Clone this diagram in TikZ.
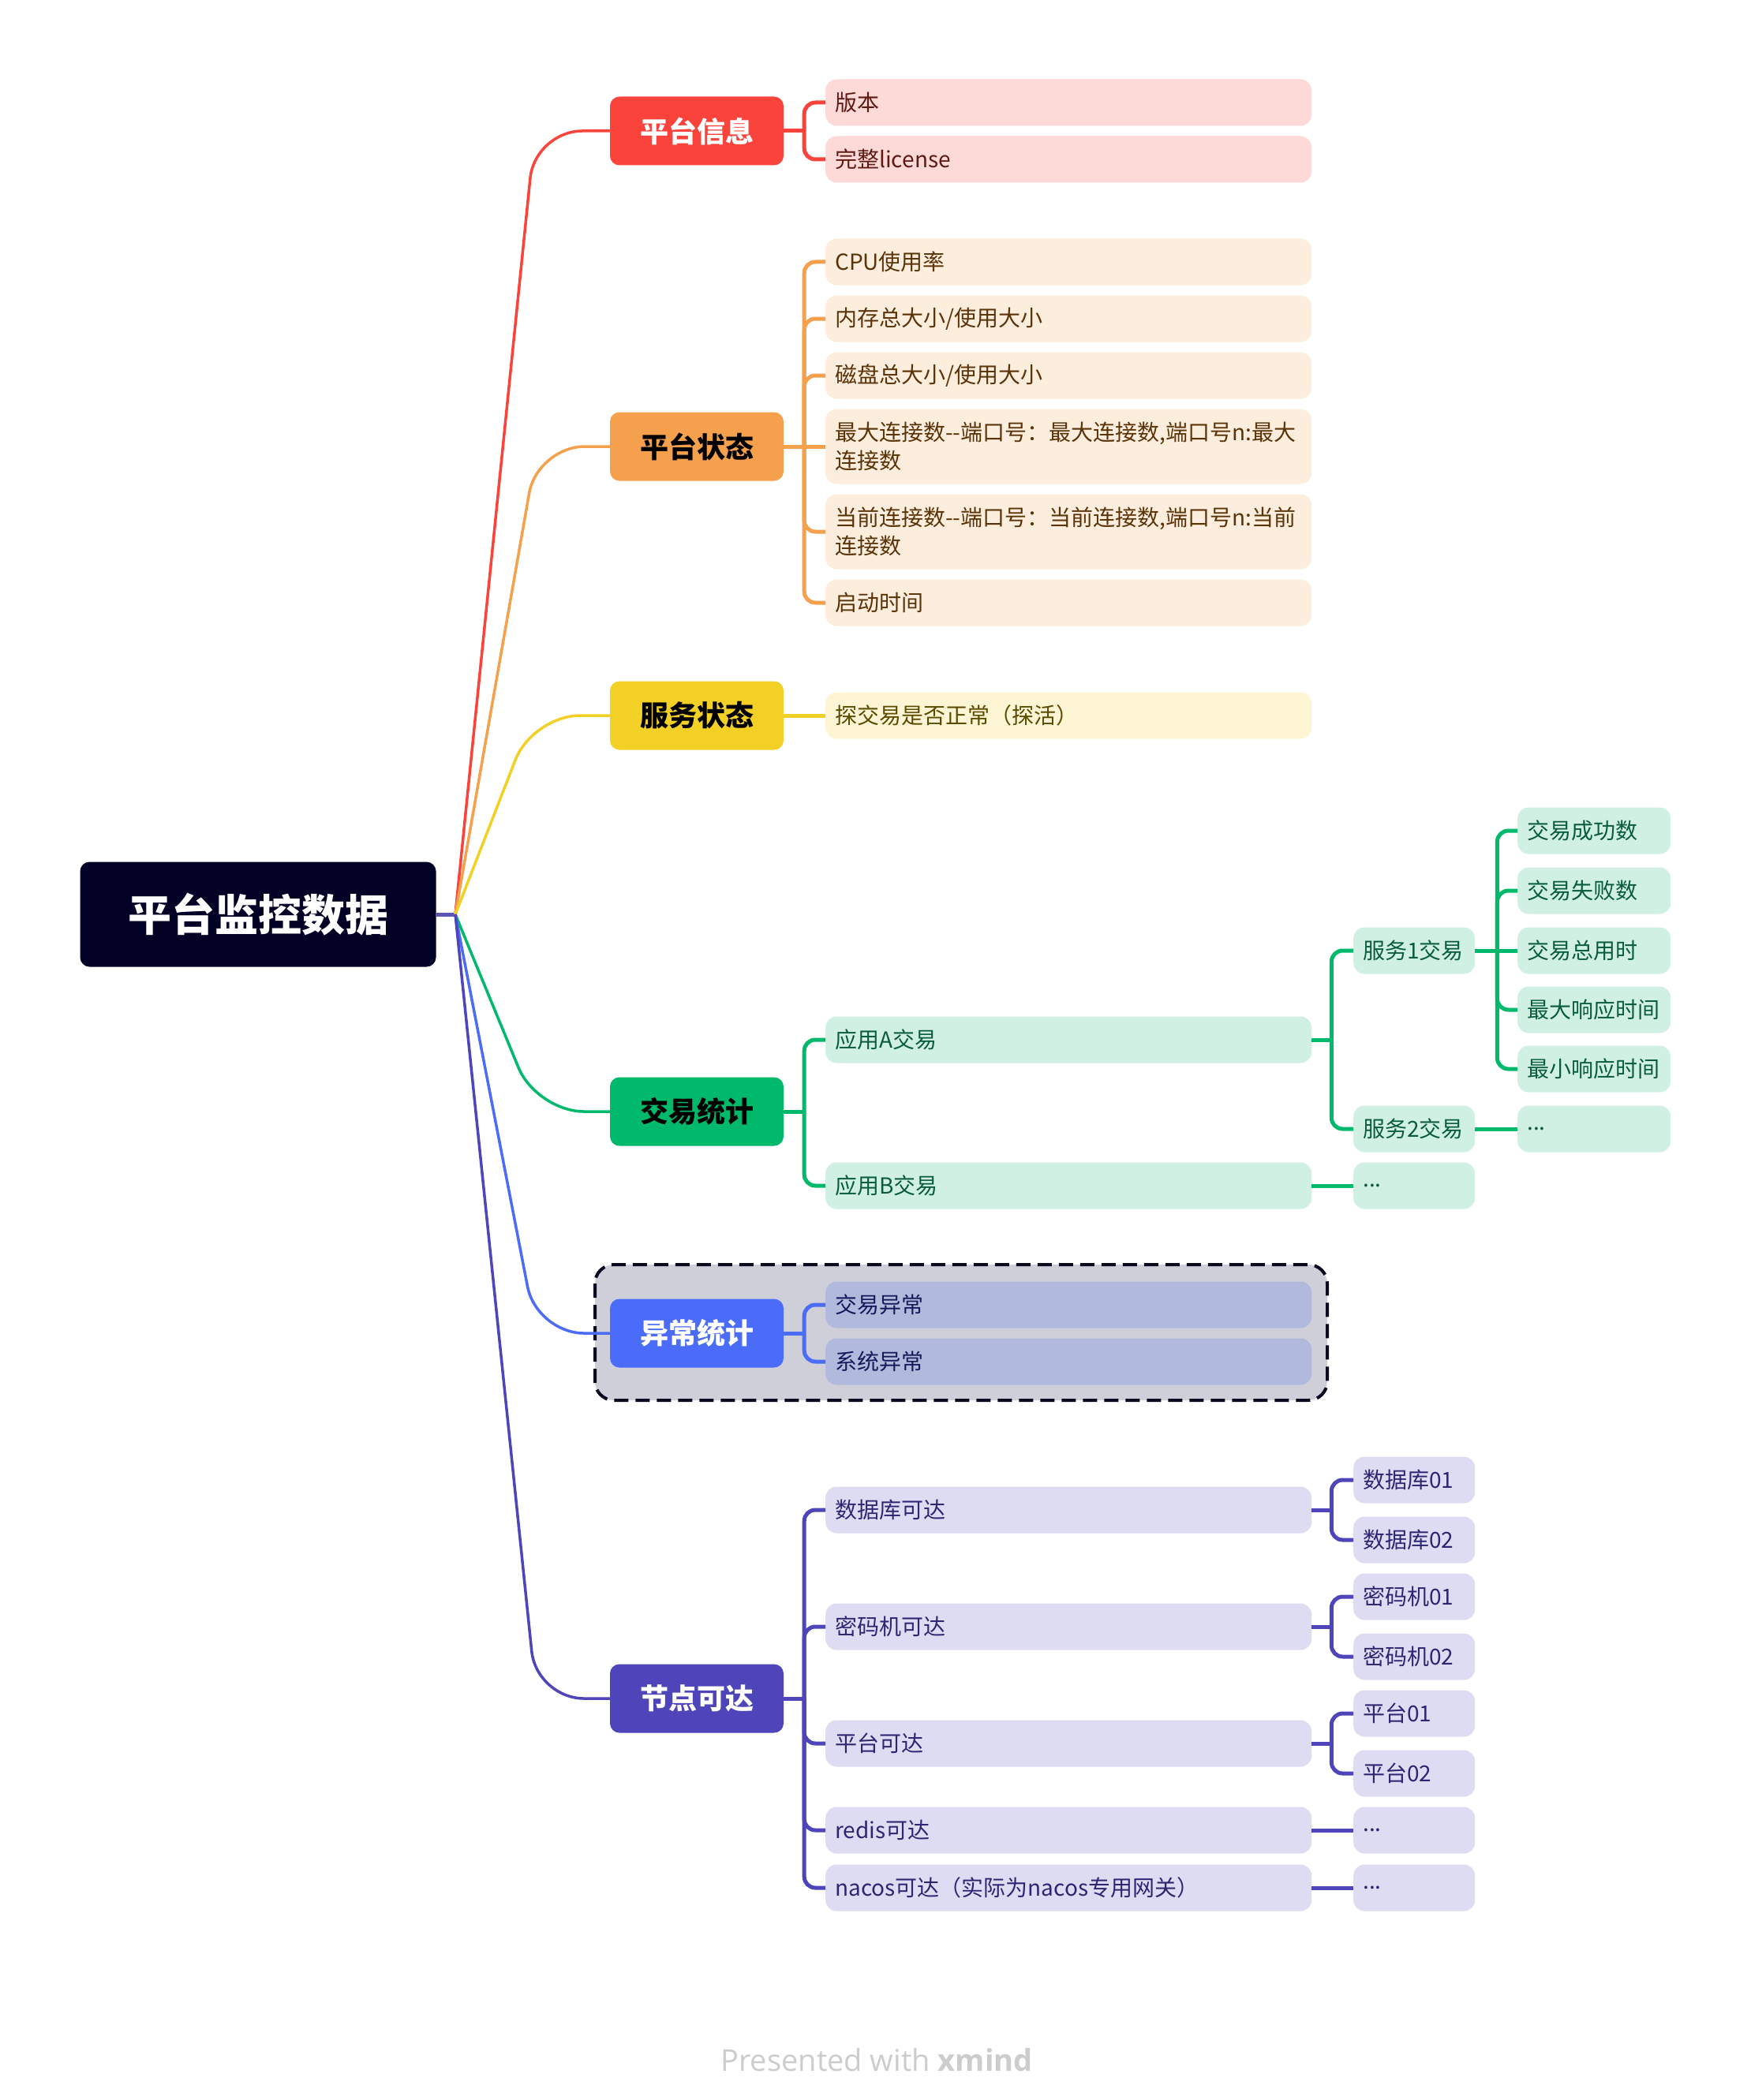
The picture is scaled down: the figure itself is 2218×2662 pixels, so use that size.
\documentclass[tikz,border=0pt]{standalone}
\usepackage{fontspec}
\setmainfont{Noto Sans CJK SC}
\newfontfamily\wmfont{Open Sans}
\definecolor{cRoot}{HTML}{020024}
\definecolor{cRootL}{HTML}{5B55B5}
\definecolor{cR}{HTML}{F9433B}
\definecolor{cO}{HTML}{F5A04C}
\definecolor{cY}{HTML}{F2D026}
\definecolor{cG}{HTML}{00B96B}
\definecolor{cB}{HTML}{4A6CF8}
\definecolor{cP}{HTML}{4D45B9}
\definecolor{lR}{HTML}{FDD9D8}
\definecolor{lO}{HTML}{FDEDDD}
\definecolor{lY}{HTML}{FDF5D3}
\definecolor{lG}{HTML}{CFF0E3}
\definecolor{lB}{HTML}{B1B9DC}
\definecolor{lP}{HTML}{DEDCF3}
\definecolor{tR}{HTML}{5E1B14}
\definecolor{tO}{HTML}{5A3408}
\definecolor{tY}{HTML}{5C4A00}
\definecolor{tG}{HTML}{0B5C3E}
\definecolor{tB}{HTML}{141A5A}
\definecolor{tP}{HTML}{2C2673}
\definecolor{boxfill}{HTML}{CFCFDA}
\definecolor{boxline}{HTML}{0A0A20}
\definecolor{wm}{HTML}{CCCCCC}
\begin{document}
\begin{tikzpicture}[x=1pt,y=-1pt,
  rootbox/.style={fill=cRoot, rounded corners=12pt, minimum width=451pt, minimum height=133pt, text=white, inner sep=0pt, font=\fontsize{55pt}{66pt}\selectfont\bfseries},
  lone/.style={rounded corners=12pt, minimum width=220pt, minimum height=87pt, inner sep=0pt, font=\fontsize{36pt}{44pt}\selectfont\bfseries},
  ltwo/.style={rounded corners=14pt, anchor=west, minimum height=59pt, text width=592pt, inner xsep=12pt, inner ysep=0pt, align=left, font=\fontsize{28pt}{36pt}\selectfont},
  lthree/.style={ltwo, text width=130pt},
  lfour/.style={ltwo, text width=170pt},
  mainc/.style={line width=3.5pt, draw=#1, rounded corners=60pt},
  br/.style={line width=5pt, draw=#1},
  brk/.style={line width=5pt, draw=#1, rounded corners=14pt}
]
\useasboundingbox (0,0) rectangle (2218,2662);
\fill[white] (0,0) rectangle (2218,2662);

% grouping box
\draw[line width=4pt, dash pattern=on 18pt off 9pt, draw=boxline, fill=boxfill, rounded corners=24pt] (754,1603) rectangle (1682,1775);

% root
\node[rootbox] (root) at (327,1159) {平台监控数据};
\coordinate (J) at (577,1159);

% level 1
\node[lone, fill=cR, text=white] (a) at (883,166) {平台信息};
\node[lone, fill=cO, text=black] (b) at (883,566) {平台状态};
\node[lone, fill=cY, text=black] (c) at (883,907) {服务状态};
\node[lone, fill=cG, text=black] (d) at (883,1409) {交易统计};
\node[lone, fill=cB, text=white] (e) at (883,1690) {异常统计};
\node[lone, fill=cP, text=white] (f) at (883,2153) {节点可达};

% level 2
\node[ltwo, fill=lR, text=tR] (a1) at (1046,130) {版本};
\node[ltwo, fill=lR, text=tR] (a2) at (1046,202) {完整license};
\node[ltwo, fill=lO, text=tO] (b1) at (1046,332) {CPU使用率};
\node[ltwo, fill=lO, text=tO] (b2) at (1046,404) {内存总大小/使用大小};
\node[ltwo, fill=lO, text=tO] (b3) at (1046,476) {磁盘总大小/使用大小};
\node[ltwo, fill=lO, text=tO, minimum height=95pt] (b4) at (1046,566) {最大连接数-{}-端口号：最大连接数,端口号n:最大\\连接数};
\node[ltwo, fill=lO, text=tO, minimum height=95pt] (b5) at (1046,674) {当前连接数-{}-端口号：当前连接数,端口号n:当前\\连接数};
\node[ltwo, fill=lO, text=tO] (b6) at (1046,764) {启动时间};
\node[ltwo, fill=lY, text=tY] (c1) at (1046,907) {探交易是否正常（探活）};
\node[ltwo, fill=lG, text=tG] (d1) at (1046,1318) {应用A交易};
\node[ltwo, fill=lG, text=tG] (d2) at (1046,1503) {应用B交易};
\node[ltwo, fill=lB, text=tB] (e1) at (1046,1654) {交易异常};
\node[ltwo, fill=lB, text=tB] (e2) at (1046,1726) {系统异常};
\node[ltwo, fill=lP, text=tP] (f1) at (1046,1914) {数据库可达};
\node[ltwo, fill=lP, text=tP] (f2) at (1046,2062) {密码机可达};
\node[ltwo, fill=lP, text=tP] (f3) at (1046,2210) {平台可达};
\node[ltwo, fill=lP, text=tP] (f4) at (1046,2320) {redis可达};
\node[ltwo, fill=lP, text=tP] (f5) at (1046,2393) {nacos可达（实际为nacos专用网关）};

% level 3
\node[lthree, fill=lG, text=tG] (d11) at (1715,1205) {服务1交易};
\node[lthree, fill=lG, text=tG] (d12) at (1715,1431) {服务2交易};
\node[lthree, fill=lG, text=tG] (d21) at (1715,1503) {...};
\node[lthree, fill=lP, text=tP] (f11) at (1715,1876) {数据库01};
\node[lthree, fill=lP, text=tP] (f12) at (1715,1952) {数据库02};
\node[lthree, fill=lP, text=tP] (f21) at (1715,2024) {密码机01};
\node[lthree, fill=lP, text=tP] (f22) at (1715,2100) {密码机02};
\node[lthree, fill=lP, text=tP] (f31) at (1715,2172) {平台01};
\node[lthree, fill=lP, text=tP] (f32) at (1715,2248) {平台02};
\node[lthree, fill=lP, text=tP] (f41) at (1715,2320) {...};
\node[lthree, fill=lP, text=tP] (f51) at (1715,2393) {...};

% level 4
\node[lfour, fill=lG, text=tG] (g1) at (1923,1053) {交易成功数};
\node[lfour, fill=lG, text=tG] (g2) at (1923,1129) {交易失败数};
\node[lfour, fill=lG, text=tG] (g3) at (1923,1205) {交易总用时};
\node[lfour, fill=lG, text=tG] (g4) at (1923,1280) {最大响应时间};
\node[lfour, fill=lG, text=tG] (g5) at (1923,1355) {最小响应时间};
\node[lfour, fill=lG, text=tG] (g6) at (1923,1431) {...};

% watermark
\node[font=\wmfont\fontsize{38pt}{46pt}\selectfont, text=wm, anchor=base] (wmk) at (1111,2625) {Presented with \textbf{xmind}};

% root stub
\draw[line width=5pt, draw=cRootL] (root.east) -- (J);

% level 1 connectors
\draw[mainc=cR] (J) -- (678,166) -- (a.west);
\draw[mainc=cO] (J) -- (681,566) -- (b.west);
\draw[mainc=cY] (J) -- (675,907) -- (c.west);
\draw[mainc=cG] (J) -- (680,1409) -- (d.west);
\draw[mainc=cB] (J) -- (680,1690) -- (e.west);
\draw[mainc=cP] (J) -- (680,2153) -- (f.west);

% level 2 connectors
\draw[br=cR] (a.east) -- ++(26,0) coordinate (aj);
\foreach \k in {a1,a2} \draw[brk=cR] (aj) -- (aj |- \k.west) -- (\k.west);
\draw[br=cO] (b.east) -- ++(26,0) coordinate (bj);
\foreach \k in {b1,b2,b3,b5,b6} \draw[brk=cO] (bj) -- (bj |- \k.west) -- (\k.west);
\draw[br=cO] (bj) -- (b4.west);
\draw[br=cY] (c.east) -- (c1.west);
\draw[br=cG] (d.east) -- ++(26,0) coordinate (dj);
\foreach \k in {d1,d2} \draw[brk=cG] (dj) -- (dj |- \k.west) -- (\k.west);
\draw[br=cB] (e.east) -- ++(26,0) coordinate (ej);
\foreach \k in {e1,e2} \draw[brk=cB] (ej) -- (ej |- \k.west) -- (\k.west);
\draw[br=cP] (f.east) -- ++(26,0) coordinate (fj);
\foreach \k in {f1,f2,f3,f4,f5} \draw[brk=cP] (fj) -- (fj |- \k.west) -- (\k.west);

% level 3 connectors
\draw[br=cG] (d1.east) -- ++(25,0) coordinate (d1j);
\foreach \k in {d11,d12} \draw[brk=cG] (d1j) -- (d1j |- \k.west) -- (\k.west);
\draw[br=cG] (d2.east) -- (d21.west);
\draw[br=cP] (f1.east) -- ++(25,0) coordinate (f1j);
\foreach \k in {f11,f12} \draw[brk=cP] (f1j) -- (f1j |- \k.west) -- (\k.west);
\draw[br=cP] (f2.east) -- ++(25,0) coordinate (f2j);
\foreach \k in {f21,f22} \draw[brk=cP] (f2j) -- (f2j |- \k.west) -- (\k.west);
\draw[br=cP] (f3.east) -- ++(25,0) coordinate (f3j);
\foreach \k in {f31,f32} \draw[brk=cP] (f3j) -- (f3j |- \k.west) -- (\k.west);
\draw[br=cP] (f4.east) -- (f41.west);
\draw[br=cP] (f5.east) -- (f51.west);

% level 4 connectors
\draw[br=cG] (d11.east) -- (g3.west);
\coordinate (gj) at ([xshift=28pt]d11.east);
\foreach \k in {g1,g2,g4,g5} \draw[brk=cG] (gj) -- (gj |- \k.west) -- (\k.west);
\draw[br=cG] (d12.east) -- (g6.west);
\end{tikzpicture}
\end{document}
